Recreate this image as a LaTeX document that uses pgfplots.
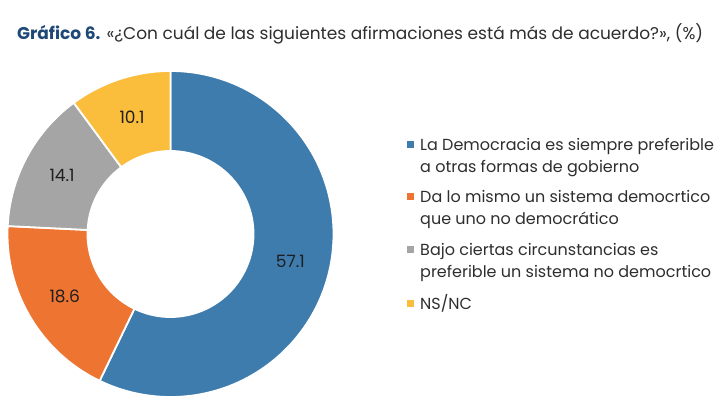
\documentclass[border=0pt]{standalone}
\usepackage{pgfplots}
\pgfplotsset{compat=1.18}
\usepackage{pgfplotstable}
\usepackage{fontspec}
\setmainfont{Poppins}
\definecolor{cA}{HTML}{3F7CAE}
\definecolor{cB}{HTML}{EE7431}
\definecolor{cC}{HTML}{A5A5A5}
\definecolor{cD}{HTML}{FBBD3C}
\definecolor{ttl}{HTML}{1D4877}
\definecolor{txt}{HTML}{2E2E2E}
\pgfplotstableread{
value
57.1
18.6
14.1
10.1
}\piedata
\pgfplotstablegetelem{0}{value}\of\piedata\let\vA\pgfplotsretval
\pgfplotstablegetelem{1}{value}\of\piedata\let\vB\pgfplotsretval
\pgfplotstablegetelem{2}{value}\of\piedata\let\vC\pgfplotsretval
\pgfplotstablegetelem{3}{value}\of\piedata\let\vD\pgfplotsretval
\pgfmathsetmacro\tot{\vA+\vB+\vC+\vD}
\pgfmathsetmacro\aA{90}
\pgfmathsetmacro\aB{\aA-\vA/\tot*360}
\pgfmathsetmacro\aC{\aB-\vB/\tot*360}
\pgfmathsetmacro\aD{\aC-\vC/\tot*360}
\pgfmathsetmacro\aE{\aD-\vD/\tot*360}
\pgfmathsetmacro\mA{(\aA+\aB)/2}
\pgfmathsetmacro\mB{(\aB+\aC)/2}
\pgfmathsetmacro\mC{(\aC+\aD)/2}
\pgfmathsetmacro\mD{(\aD+\aE)/2}
\newcommand\sector[5]{%
  \fill[#1, draw=white, line width=1.8pt] (#2:163pt) arc[start angle=#2, end angle=#3, radius=163pt]
    -- (#3:83pt) arc[start angle=#3, end angle=#2, radius=83pt] -- cycle;
  \node[text=black!88, font=\fontsize{17}{20}\selectfont] at (#5:123pt) {#4};
}
\newcommand\legline[3]{%
  \node[anchor=base west, text=txt, font=\fontsize{16}{19}\selectfont, inner sep=0pt] at (axis cs:#1,#2) {#3};
}
\begin{document}%
\begin{tikzpicture}
\begin{axis}[x=1pt, y=1pt, xmin=0, xmax=728, ymin=0, ymax=410, hide axis, clip=false,
  anchor=south west, at={(0,0)}]
\begin{scope}[shift={(axis cs:170.5,176)}]
\sector{cA}{\aA}{\aB}{\vA}{\mA}
\sector{cB}{\aB}{\aC}{\vB}{\mB}
\sector{cC}{\aC}{\aD}{\vC}{\mC}
\sector{cD}{\aD}{\aE}{\vD}{\mD}
\end{scope}
\node[anchor=base west, inner sep=0pt, font=\fontsize{17}{20}\selectfont] at (axis cs:17,370)
  {\textcolor{ttl}{\bfseries Gráfico 6.} \textcolor{txt}{«¿Con cuál de las siguientes afirmaciones está más de acuerdo?», (\%)}};
\fill[cA] (axis cs:406.5,268.5) rectangle (axis cs:413.5,261.5);
\fill[cB] (axis cs:406.5,216.8) rectangle (axis cs:413.5,209.8);
\fill[cC] (axis cs:406.5,163.5) rectangle (axis cs:413.5,156.5);
\fill[cD] (axis cs:406.5,110.5) rectangle (axis cs:413.5,103.5);
\legline{420}{259}{La Democracia es siempre preferible}
\legline{420}{237.3}{a otras formas de gobierno}
\legline{420}{207.3}{Da lo mismo un sistema democrtico}
\legline{420}{185.7}{que uno no democrático}
\legline{420}{154}{Bajo ciertas circunstancias es}
\legline{420}{132.3}{preferible un sistema no democrtico}
\legline{420}{101}{NS/NC}
\end{axis}
\pgfresetboundingbox
\useasboundingbox (0,0) rectangle (728pt,410pt);
\end{tikzpicture}%
\end{document}
